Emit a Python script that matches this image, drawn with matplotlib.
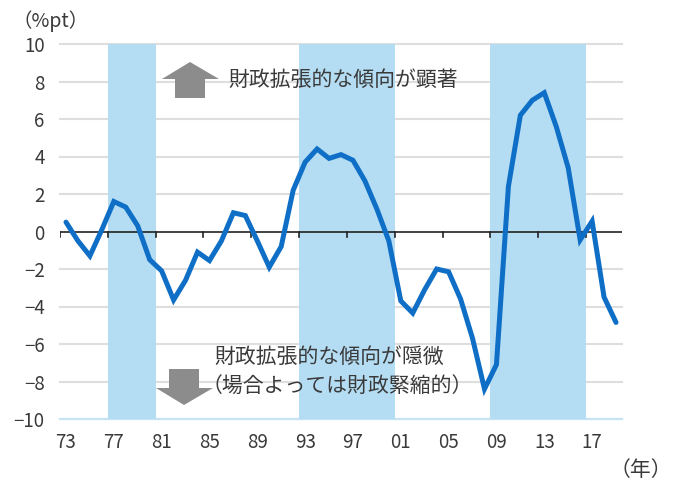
import matplotlib
matplotlib.use("Agg")
import matplotlib.pyplot as plt
from matplotlib.patches import Polygon

plt.rcParams["font.family"] = ["Noto Sans CJK JP", "DejaVu Sans"]

years = list(range(1973, 2020))
gap = [0.5, -0.5, -1.3, 0.1, 1.6, 1.3, 0.3, -1.5, -2.1, -3.65,
       -2.6, -1.1, -1.55, -0.5, 1.0, 0.85, -0.5, -1.9, -0.8, 2.2,
       3.7, 4.4, 3.9, 4.1, 3.8, 2.7, 1.2, -0.5, -3.7, -4.35,
       -3.1, -2.0, -2.15, -3.6, -5.7, -8.4, -7.1, 2.4, 6.2, 7.0,
       7.4, 5.6, 3.4, -0.45, 0.55, -3.5, -4.85]
band_years = [(1977, 1980), (1993, 2000), (2009, 2016)]
tick_years = list(range(1973, 2020, 4))
tick_labels = ["73", "77", "81", "85", "89", "93", "97", "01", "05", "09", "13", "17"]
y_ticks = [10, 8, 6, 4, 2, 0, -2, -4, -6, -8, -10]

W, H = 676, 480
TEXT = "#3a3a3a"
fig = plt.figure(figsize=(W / 100, H / 100), dpi=100)
ax = fig.add_axes([60 / W, 1 - 419 / H, 562 / W, 375 / H])

ax.set_xlim(years[0] - 0.5, years[-1] + 0.5)
ax.set_ylim(-10, 10)
for side in ["top", "right", "left", "bottom"]:
    ax.spines[side].set_visible(False)

for v in y_ticks:
    if v == -10:
        ax.axhline(v, color="#c5e3f3", lw=1.6, zorder=1, clip_on=False)
    elif v != 0:
        ax.axhline(v, color="#dedede", lw=1.5, zorder=1, clip_on=False)
for start, end in band_years:
    ax.axvspan(start - 0.5, end + 0.5, color="#b4ddf3", lw=0, zorder=2)

ax.axhline(0, color="#222222", lw=1.2, zorder=3)
for yr in tick_years:
    ax.plot([yr - 0.5, yr - 0.5], [0, -0.3], color="#222222", lw=1.2, zorder=3)
ax.plot(years, gap, color="#0f6fc6", lw=3.6, zorder=4,
        solid_joinstyle="miter", solid_capstyle="round")

ax.set_yticks(y_ticks)
ax.set_yticklabels([str(v).replace("-", "−") for v in y_ticks])
ax.set_xticks(tick_years)
ax.set_xticklabels(tick_labels)
ax.tick_params(axis="both", length=0, labelsize=13.5, labelcolor=TEXT)
ax.tick_params(axis="y", pad=11)
ax.tick_params(axis="x", pad=9)


def px(x, y):
    return (x / W, 1 - y / H)


def label(x, y, s, size=15, ha="left"):
    fig.text(*px(x, y), s, fontsize=size, color=TEXT, ha=ha, va="center", zorder=6)


up_arrow = [(190, 62), (219, 79), (205, 79), (205, 98), (175, 98), (175, 79), (162, 79)]
down_arrow = [(184, 405), (213, 388), (199, 388), (199, 369), (169, 369), (169, 388), (156, 388)]
for shape in (up_arrow, down_arrow):
    fig.add_artist(Polygon([px(*p) for p in shape], closed=True, transform=fig.transFigure,
                           facecolor="#8c8c8c", edgecolor="none", zorder=5))

label(228, 80, "財政拡張的な傾向が顕著")
label(214, 357, "財政拡張的な傾向が隠微")
label(202, 386, "（場合よっては財政緊縮的）")
label(13, 21, "（%pt）", size=14)
label(610, 470, "（年）", size=15)

fig.savefig("out.png", dpi=100)
